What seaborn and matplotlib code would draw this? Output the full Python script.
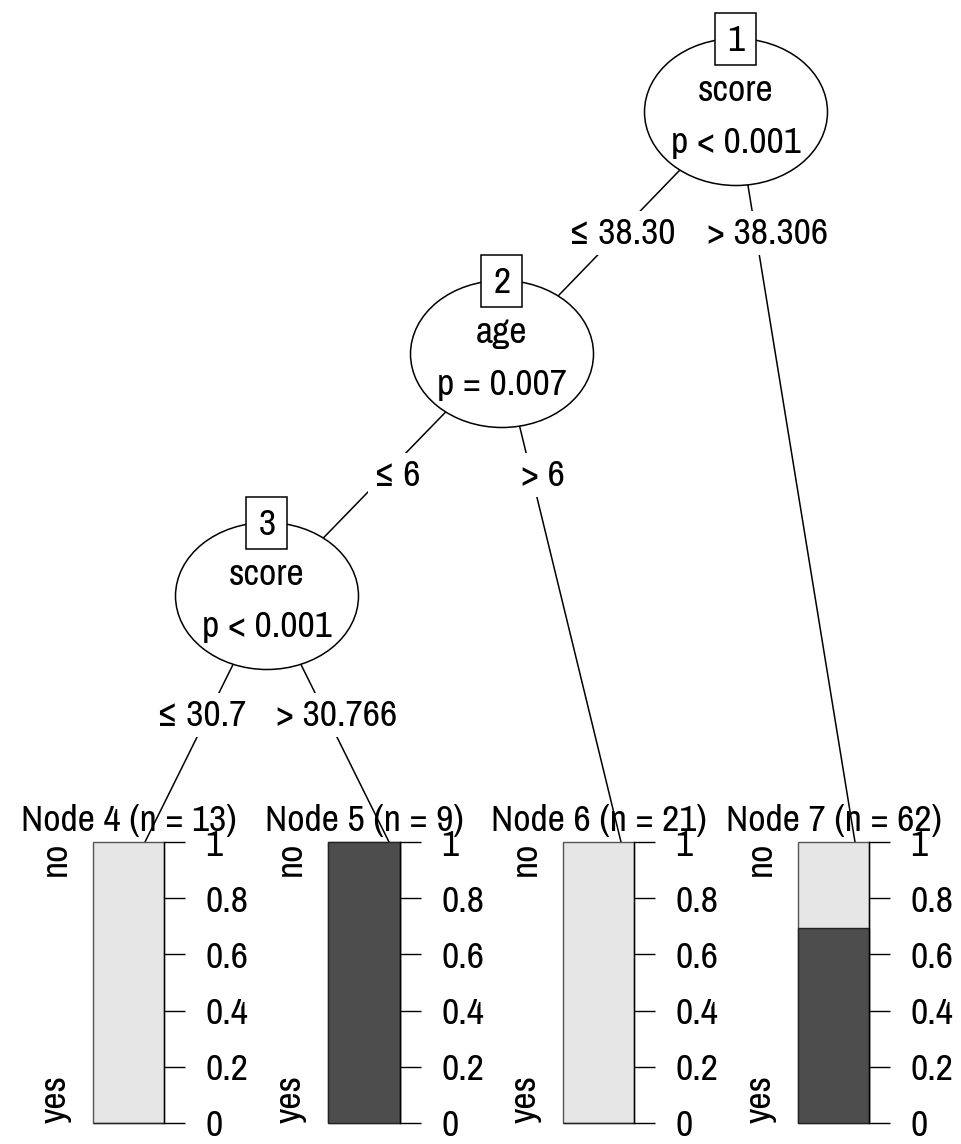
import matplotlib
matplotlib.use("Agg")
import matplotlib.pyplot as plt
import seaborn as sns
import pandas as pd
from matplotlib.patches import Ellipse, Rectangle
from matplotlib import font_manager

# ---------------- data ----------------
inner_ids = [1, 2, 3]
inner_vars = ["score", "age", "score"]
inner_pvals = ["p < 0.001", "p = 0.007", "p < 0.001"]
edge_parent = [1, 1, 2, 2, 3, 3]
edge_child = [2, 7, 3, 6, 4, 5]
edge_labels = ["≤ 38.30", "> 38.306", "≤ 6", "> 6", "≤ 30.7", "> 30.766"]
term_ids = [4, 5, 6, 7]
term_n = [13, 9, 21, 62]
term_yes = [0.0, 1.0, 0.0, 0.694]
classes = ["no", "yes"]
y_ticks = [0, 0.2, 0.4, 0.6, 0.8, 1]
y_ticklabels = ["0", "0.2", "0.4", "0.6", "0.8", "1"]

# ---------------- layout (pixels) ----------------
W, H = 962, 1144
inner_pos = {1: (736, 112), 2: (502, 354), 3: (267, 596)}
ell_w, ell_h = 183, 147
id_w, id_h = 41, 52
term_x = {4: (93, 164), 5: (328, 400), 6: (563, 634), 7: (798, 869)}
term_top, term_bot = 842, 1123
term_anchor = {4: 145, 5: 389, 6: 621, 7: 855}
label_pos = [(622, 233), (768, 233), (397, 475), (543, 475), (202, 715), (337, 715)]

sns.set_theme(style="white")
for k in ["text.color", "axes.labelcolor", "xtick.color", "ytick.color"]:
    plt.rcParams[k] = "black"

fig = plt.figure(figsize=(W / 100, H / 100), dpi=100)

# pick the installed narrow sans whose proportions best match the reference
names = {f.name for f in font_manager.fontManager.ttflist}
cands = ["Liberation Sans Narrow", "Arial Narrow", "Nimbus Sans Narrow",
         "Roboto Condensed", "PT Sans Narrow", "IBM Plex Sans Condensed",
         "Archivo Narrow", "Pragati Narrow", "Fira Sans Condensed",
         "Encode Sans Condensed", "Sofia Sans Condensed"]
cands = [c for c in cands if c in names] or ["Liberation Sans"]
targets = {"0.8": 43 / 232, "p < 0.001": 133 / 232, "score": 78 / 232}

def width(s, fam):
    t = fig.text(0, 0, s, fontsize=20, family=fam)
    fig.canvas.draw()
    w = t.get_window_extent().width
    t.remove()
    return w

best, best_err, best_ref = None, 1e9, None
for c in cands:
    ref = width("Node 4 (n = 13)", c)
    err = sum(abs(width(s, c) / ref - r) for s, r in targets.items())
    if err < best_err:
        best, best_err, best_ref = c, err, ref
main_font = best
plt.rcParams["font.family"] = [main_font, "DejaVu Sans"]
fs = min(20 * 232 / best_ref, 29.5)

ax = fig.add_axes([0, 0, 1, 1])
ax.set_xlim(0, W)
ax.set_ylim(H, 0)
ax.axis("off")

lw = 1.1
light = "#e6e6e6"
dark = "#4d4d4d"

def node_point(nid):
    if nid in inner_pos:
        return inner_pos[nid]
    return (term_anchor[nid], term_top)

# edges with labels
for p, c, lab, (lx, ly) in zip(edge_parent, edge_child, edge_labels, label_pos):
    x0, y0 = node_point(p)
    x1, y1 = node_point(c)
    ax.plot([x0, x1], [y0, y1], color="black", lw=lw, zorder=1)
    ax.text(lx, ly, lab, ha="center", va="center", fontsize=fs, zorder=4,
            bbox=dict(facecolor="white", edgecolor="none", pad=4))

# inner nodes
for nid, var, pv in zip(inner_ids, inner_vars, inner_pvals):
    cx, cy = inner_pos[nid]
    ax.add_patch(Ellipse((cx, cy), ell_w, ell_h, facecolor="white",
                         edgecolor="black", lw=lw, zorder=3))
    ax.text(cx, cy - 11, var, ha="center", va="baseline", fontsize=fs, zorder=4)
    ax.text(cx, cy + 41, pv, ha="center", va="baseline", fontsize=fs, zorder=4)
    by = cy - ell_h / 2
    ax.add_patch(Rectangle((cx - id_w / 2, by - id_h / 2), id_w, id_h,
                           facecolor="white", edgecolor="black", lw=lw, zorder=5))
    ax.text(cx, by + 2, str(nid), ha="center", va="center", fontsize=fs, zorder=6)

# terminal nodes
for nid, n, yes in zip(term_ids, term_n, term_yes):
    x0, x1 = term_x[nid]
    bcx = (x0 + x1) / 2
    ax.text(bcx, 831, f"Node {nid} (n = {n})", ha="center", va="baseline",
            fontsize=fs, zorder=2)
    ax.text(x0 - 38, term_top, classes[0], rotation=90, ha="center", va="top",
            fontsize=fs)
    ax.text(x0 - 38, term_bot, classes[1], rotation=90, ha="center", va="bottom",
            fontsize=fs)
    bax = fig.add_axes([x0 / W, 1 - term_bot / H, (x1 - x0) / W,
                        (term_bot - term_top) / H])
    df = pd.DataFrame({"node": [str(nid)], "total": [1.0], "yes": [yes]})
    sns.barplot(data=df, x="node", y="total", color=light, saturation=1,
                width=1.0, edgecolor="#555555", linewidth=1.0, ax=bax)
    sns.barplot(data=df, x="node", y="yes", color=dark, saturation=1,
                width=1.0, edgecolor="#222222", linewidth=1.0, ax=bax)
    for patch in bax.patches:
        patch.set_clip_on(False)
    bax.set_xlim(-0.5, 0.5)
    bax.set_ylim(0, 1)
    bax.set_xlabel("")
    bax.set_ylabel("")
    bax.set_xticks([])
    bax.yaxis.tick_right()
    bax.set_yticks(y_ticks)
    bax.set_yticklabels(y_ticklabels)
    bax.tick_params(axis="y", right=True, left=False, length=15, width=1.0,
                    pad=15, labelsize=fs, colors="black", direction="out")
    for s in ["left", "top", "bottom"]:
        bax.spines[s].set_visible(False)
    bax.spines["right"].set_visible(True)
    bax.spines["right"].set_color("black")
    bax.spines["right"].set_linewidth(1.0)
    bax.patch.set_alpha(0)

fig.savefig("out.png", dpi=100, facecolor="white")
